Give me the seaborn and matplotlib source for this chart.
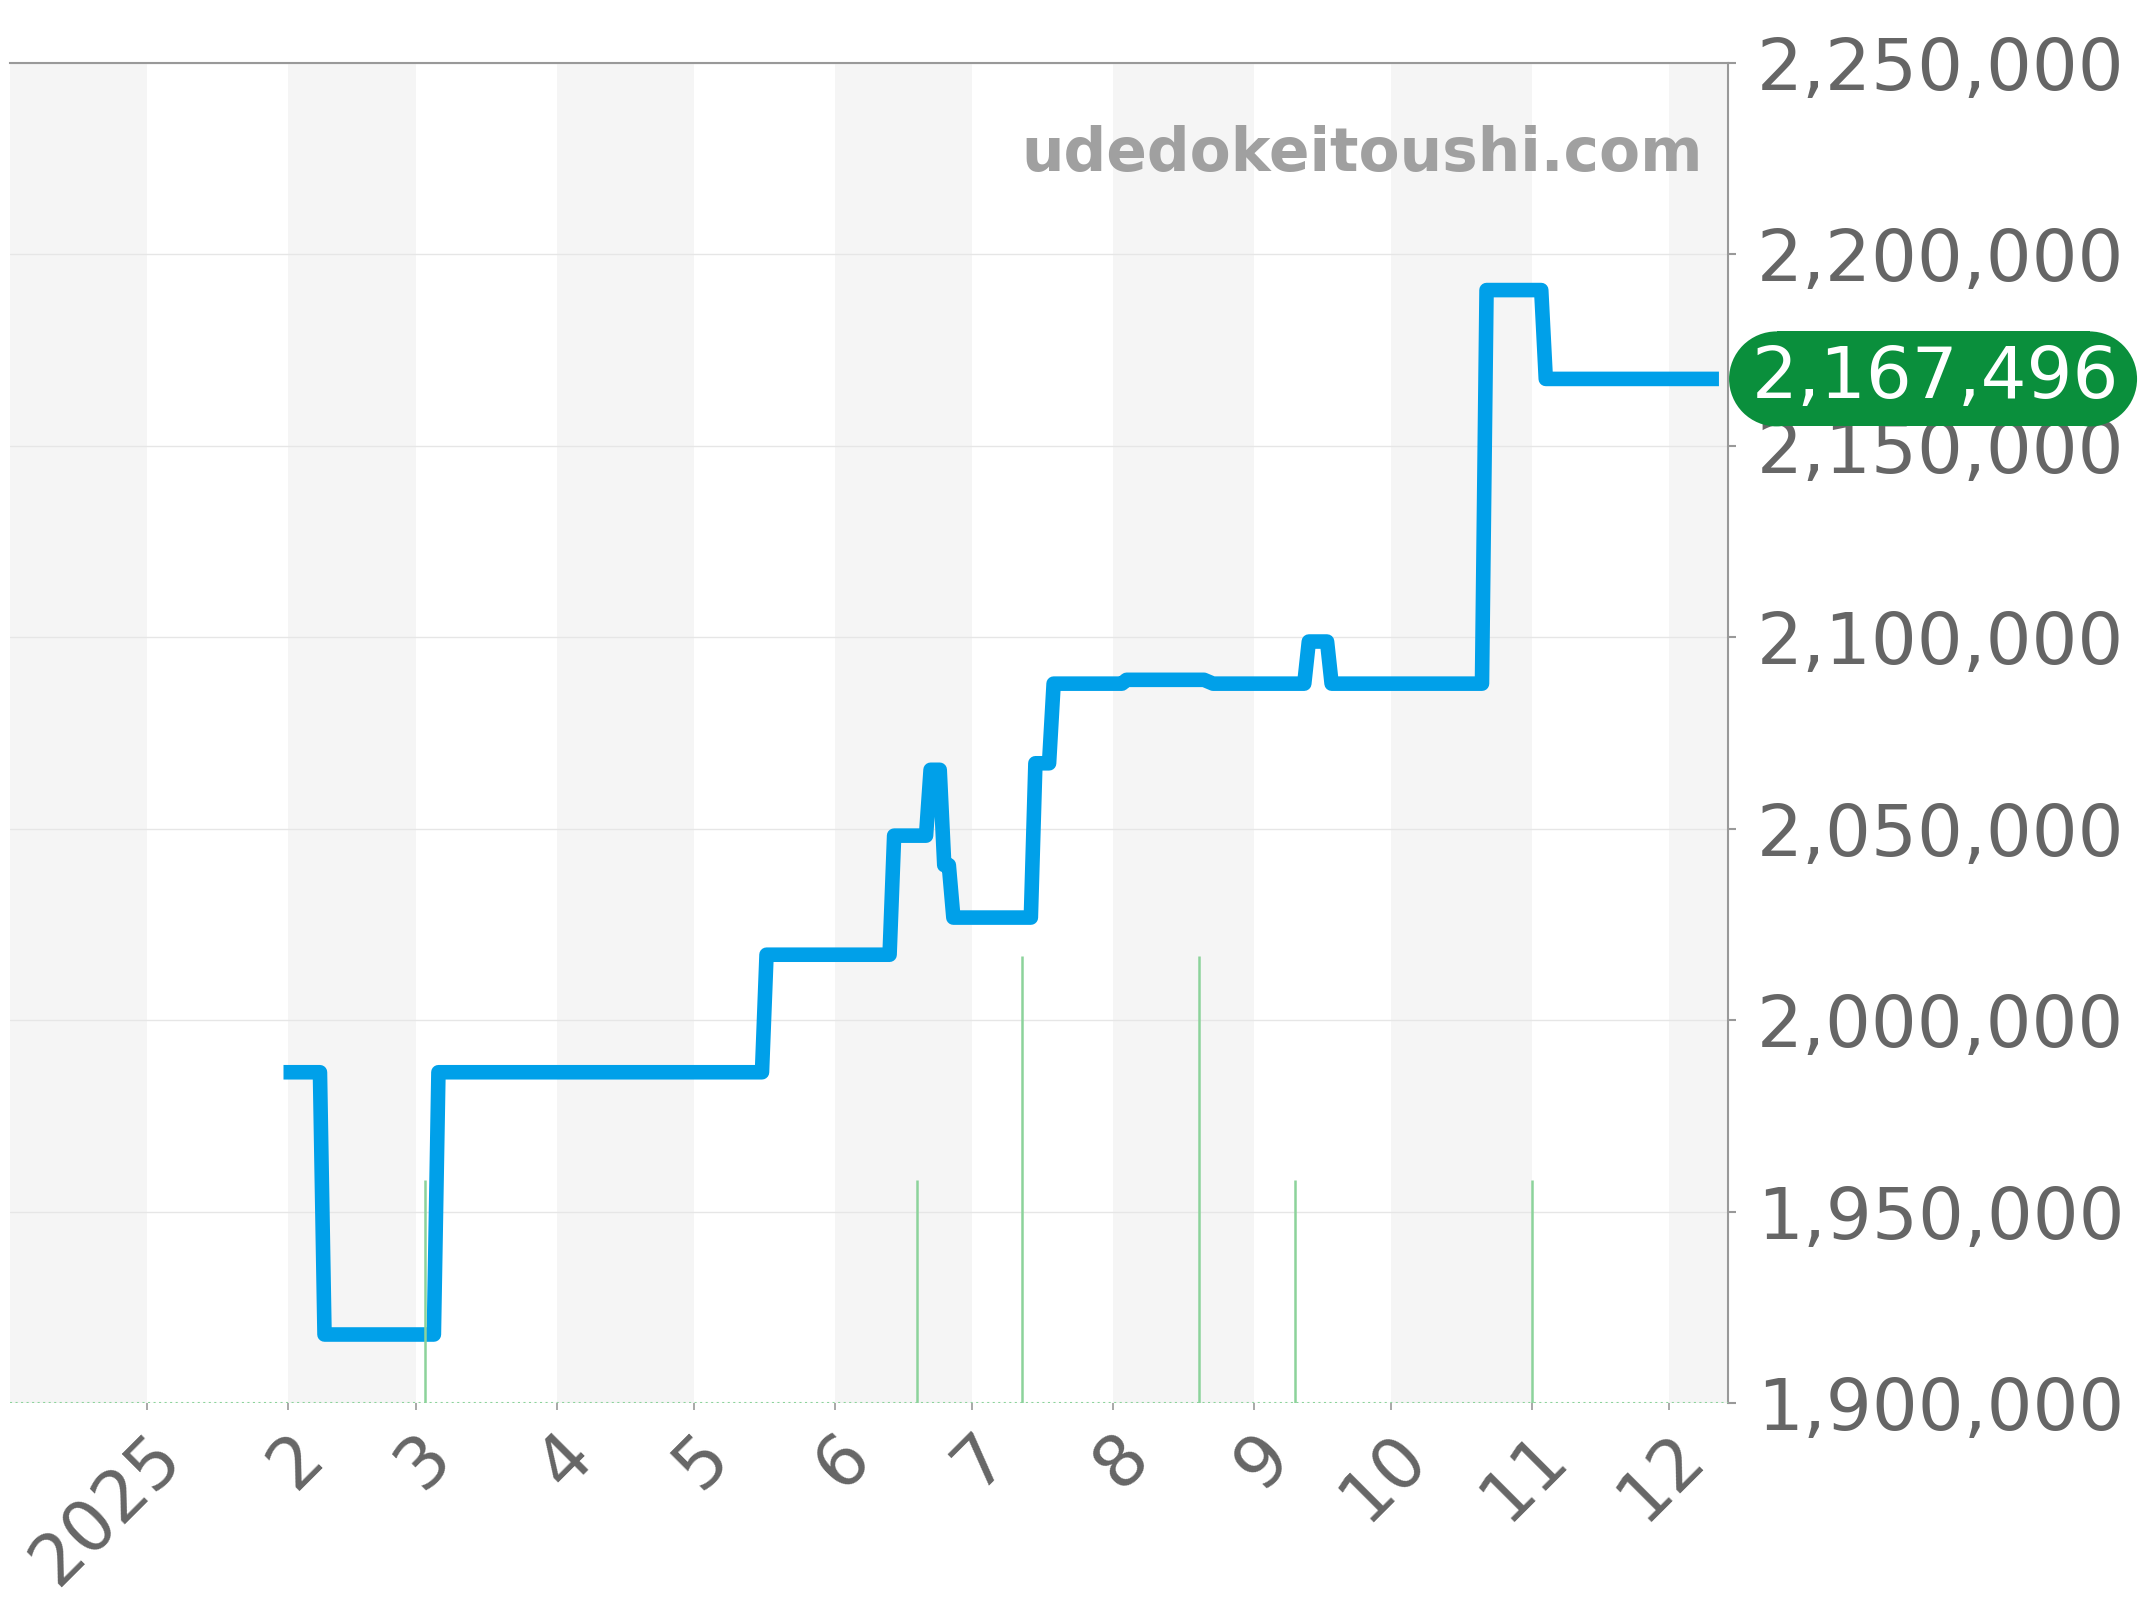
import matplotlib
matplotlib.use("Agg")
import matplotlib.pyplot as plt
import matplotlib.transforms as mtransforms
from matplotlib.patches import Rectangle, Circle
from matplotlib.ticker import FuncFormatter
import pandas as pd
import seaborn as sns

# price history (step-like line)
price_dates = [
    "2025-01-31", "2025-02-08", "2025-02-09", "2025-03-05", "2025-03-06",
    "2025-05-16", "2025-05-17", "2025-06-13", "2025-06-14", "2025-06-21",
    "2025-06-22", "2025-06-24", "2025-06-25", "2025-06-26", "2025-06-27",
    "2025-07-14", "2025-07-15", "2025-07-18", "2025-07-19", "2025-08-03",
    "2025-08-04", "2025-08-21", "2025-08-23", "2025-09-12", "2025-09-13",
    "2025-09-17", "2025-09-18", "2025-10-21", "2025-10-22", "2025-11-03",
    "2025-11-04", "2025-12-12",
]
prices = [
    1986400, 1986400, 1917900, 1917900, 1986400,
    1986400, 2017100, 2017100, 2048200, 2048200,
    2065400, 2065400, 2040500, 2040500, 2026800,
    2026800, 2067100, 2067100, 2087900, 2087900,
    2088900, 2088900, 2087900, 2087900, 2098900,
    2098900, 2087900, 2087900, 2190700, 2190700,
    2167496, 2167496,
]

# green bars at the bottom (listing counts)
listing_dates = ["2025-03-03", "2025-06-19", "2025-07-12", "2025-08-20", "2025-09-10", "2025-11-01"]
listing_counts = [1, 1, 2, 2, 1, 1]

month_starts = pd.date_range("2025-01-01", "2025-12-01", freq="MS")
month_labels = ["2025", "2", "3", "4", "5", "6", "7", "8", "9", "10", "11", "12"]
y_ticks = [1900000, 1950000, 2000000, 2050000, 2100000, 2150000, 2200000, 2250000]
latest_price = 2167496

BLUE = "#00a0e9"
GREEN_BAR = "#8cd39b"
BADGE = "#0a8f3c"
TEXT = "#666666"

sns.set_style("white")
plt.rcParams["font.family"] = ["DejaVu Sans"]

fig = plt.figure(figsize=(21.44, 16), dpi=100)
ax = fig.add_axes([0.0047, 0.1231, 0.8013, 0.8375])

x_left = pd.Timestamp("2024-12-02")
x_right = pd.Timestamp("2025-12-14")

# alternating month bands
band_edges = [x_left] + list(month_starts) + [x_right]
for i in range(len(band_edges) - 1):
    if i % 2 == 0:
        ax.axvspan(band_edges[i], band_edges[i + 1], color="#f5f5f5", lw=0, zorder=0.5)

sns.lineplot(
    x=pd.to_datetime(price_dates), y=prices, ax=ax, color=BLUE, linewidth=10.5,
    estimator=None, sort=False, solid_capstyle="butt", solid_joinstyle="round",
    zorder=3,
)

# listing counts on a hidden secondary axis
ax2 = ax.twinx()
ax2.set_ylim(0, 6)
ax2.vlines(pd.to_datetime(listing_dates), 0, listing_counts, color=GREEN_BAR, lw=1.8)
ax2.axhline(0, color=GREEN_BAR, lw=1.5, ls=":")
ax2.set_yticks([])
for s in ax2.spines.values():
    s.set_visible(False)

ax.set_xlim(x_left, x_right)
ax.set_ylim(1900000, 2250000)
ax.set_yticks(y_ticks)
ax.yaxis.set_major_formatter(FuncFormatter(lambda v, _: f"{int(v):,}"))
ax.yaxis.tick_right()
ax.grid(axis="y", color="#e6e6e6", lw=1.0)
ax.set_axisbelow("line")

ax.set_xticks(month_starts)
ax.set_xticklabels(month_labels, rotation=45, ha="right", va="top", rotation_mode="anchor")
ax.tick_params(axis="y", right=True, left=False, labelright=True, labelleft=False,
               length=6, width=1.5, color="#999999", pad=15, labelsize=52, labelcolor=TEXT)
ax.tick_params(axis="x", bottom=True, length=5, width=1.2, color="#999999",
               pad=8, labelsize=51, labelcolor=TEXT)
ax.set_xlabel("")
ax.set_ylabel("")

for side in ["left", "bottom"]:
    ax.spines[side].set_visible(False)
for side in ["top", "right"]:
    ax.spines[side].set_visible(True)
    ax.spines[side].set_color("#999999")
    ax.spines[side].set_linewidth(1.5)

ax.text(0.9855, 0.932, "udedokeitoushi.com", transform=ax.transAxes, ha="right", va="center",
        fontsize=43, fontweight="bold", color="#a0a0a0", zorder=5)

# latest price badge (pill shape in pixel coordinates)
fig.canvas.draw()
ident = mtransforms.IdentityTransform()
y_disp = ax.transData.transform((0, latest_price))[1]
x_disp = ax.transAxes.transform((1, 0))[0] + 1
badge_w, badge_h = 408, 95
r = badge_h / 2
for art in [
    Rectangle((x_disp + r, y_disp - r), badge_w - 2 * r, badge_h),
    Circle((x_disp + r, y_disp), r),
    Circle((x_disp + badge_w - r, y_disp), r),
]:
    art.set_transform(ident)
    art.set_facecolor(BADGE)
    art.set_edgecolor("none")
    art.set_zorder(10)
    fig.add_artist(art)
fig.text(x_disp + 2 + badge_w / 2, y_disp, f"{latest_price:,}",
         transform=ident, ha="center", va="center",
         fontsize=52, color="white", zorder=11)

fig.savefig("out.png", dpi=100)
